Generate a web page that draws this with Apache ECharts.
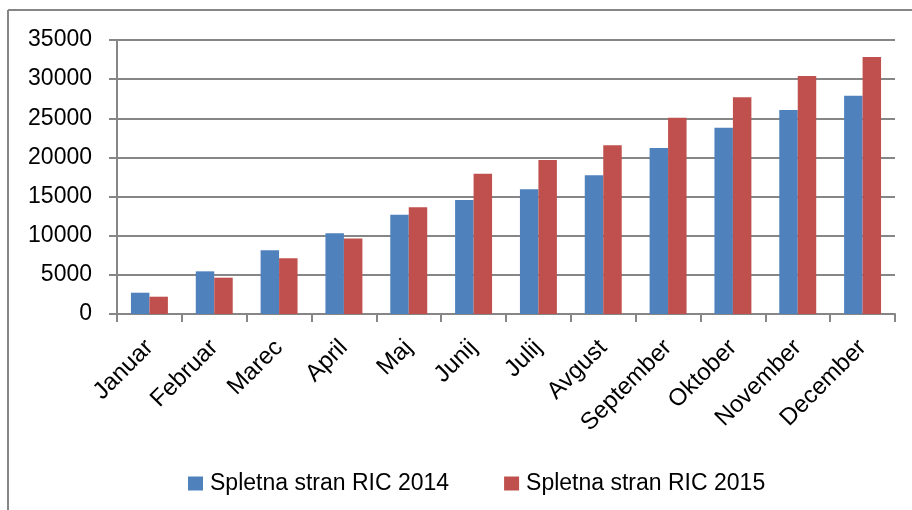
<!DOCTYPE html>
<html>
<head>
<meta charset="utf-8">
<script src="https://cdn.jsdelivr.net/npm/echarts@6/dist/echarts.min.js"></script>
<style>
  html, body { margin: 0; padding: 0; background: #fff; }
  #chart { width: 912px; height: 510px; }
</style>
</head>
<body>
<div id="chart"></div>
<script>
// meseci
const months = ['Januar', 'Februar', 'Marec', 'April', 'Maj', 'Junij', 'Julij', 'Avgust', 'September', 'Oktober', 'November', 'December']
// obiski po mesecih
const ric2014 = [2720, 5450, 8130, 10300, 12690, 14560, 15920, 17710, 21200, 23800, 26060, 27890]
const ric2015 = [2210, 4640, 7110, 9660, 13620, 17920, 19670, 21540, 25080, 27680, 30400, 32830]
const seriesNames = ['Spletna stran RIC 2014', 'Spletna stran RIC 2015']

const gray = '#868686'
const font = "'Liberation Sans', Arial, sans-serif"

let myChart = echarts.init(document.getElementById('chart'))
myChart.setOption({
  animation: false,
  textStyle: { fontFamily: font },
  grid: {
    left: 117,
    right: 17,
    top: 40,
    bottom: 196,
  },
  legend: {
    data: seriesNames,
    left: 183,
    top: 467,
    itemWidth: 15,
    itemHeight: 14,
    itemGap: 55,
    icon: 'rect',
    textStyle: {
      fontFamily: font,
      fontSize: 23,
      color: '#000',
      padding: [0, 0, 0, 2],
    },
  },
  // okvir grafa (levo in zgoraj)
  graphic: [
    { type: 'line', shape: { x1: 8, y1: 10, x2: 8, y2: 510 }, style: { stroke: gray, lineWidth: 2 } },
    { type: 'line', shape: { x1: 8, y1: 10, x2: 912, y2: 10 }, style: { stroke: gray, lineWidth: 2 } },
  ],
  xAxis: {
    type: 'category',
    data: months,
    axisLine: { show: true, lineStyle: { color: gray, width: 2 } },
    axisTick: { show: true, length: 8, lineStyle: { color: gray, width: 2 } },
    axisLabel: {
      interval: 0,
      rotate: 45,
      margin: 30,
      fontFamily: font,
      fontSize: 24,
      color: '#000',
    },
  },
  yAxis: {
    type: 'value',
    min: 0,
    max: 35000,
    interval: 5000,
    axisLine: { show: true, lineStyle: { color: gray, width: 2 } },
    axisTick: { show: true, length: 8, lineStyle: { color: gray, width: 2 } },
    splitLine: { show: true, lineStyle: { color: gray, width: 2 } },
    axisLabel: {
      margin: 25,
      fontFamily: font,
      fontSize: 23,
      color: '#000',
      formatter: (v) => String(v),
    },
  },
  series: [
    {
      name: seriesNames[0],
      type: 'bar',
      data: ric2014,
      barGap: '0%',
      barCategoryGap: '43%',
      itemStyle: { color: '#4F81BD' },
    },
    {
      name: seriesNames[1],
      type: 'bar',
      data: ric2015,
      itemStyle: { color: '#C0504D' },
    },
  ],
})
</script>
</body>
</html>
